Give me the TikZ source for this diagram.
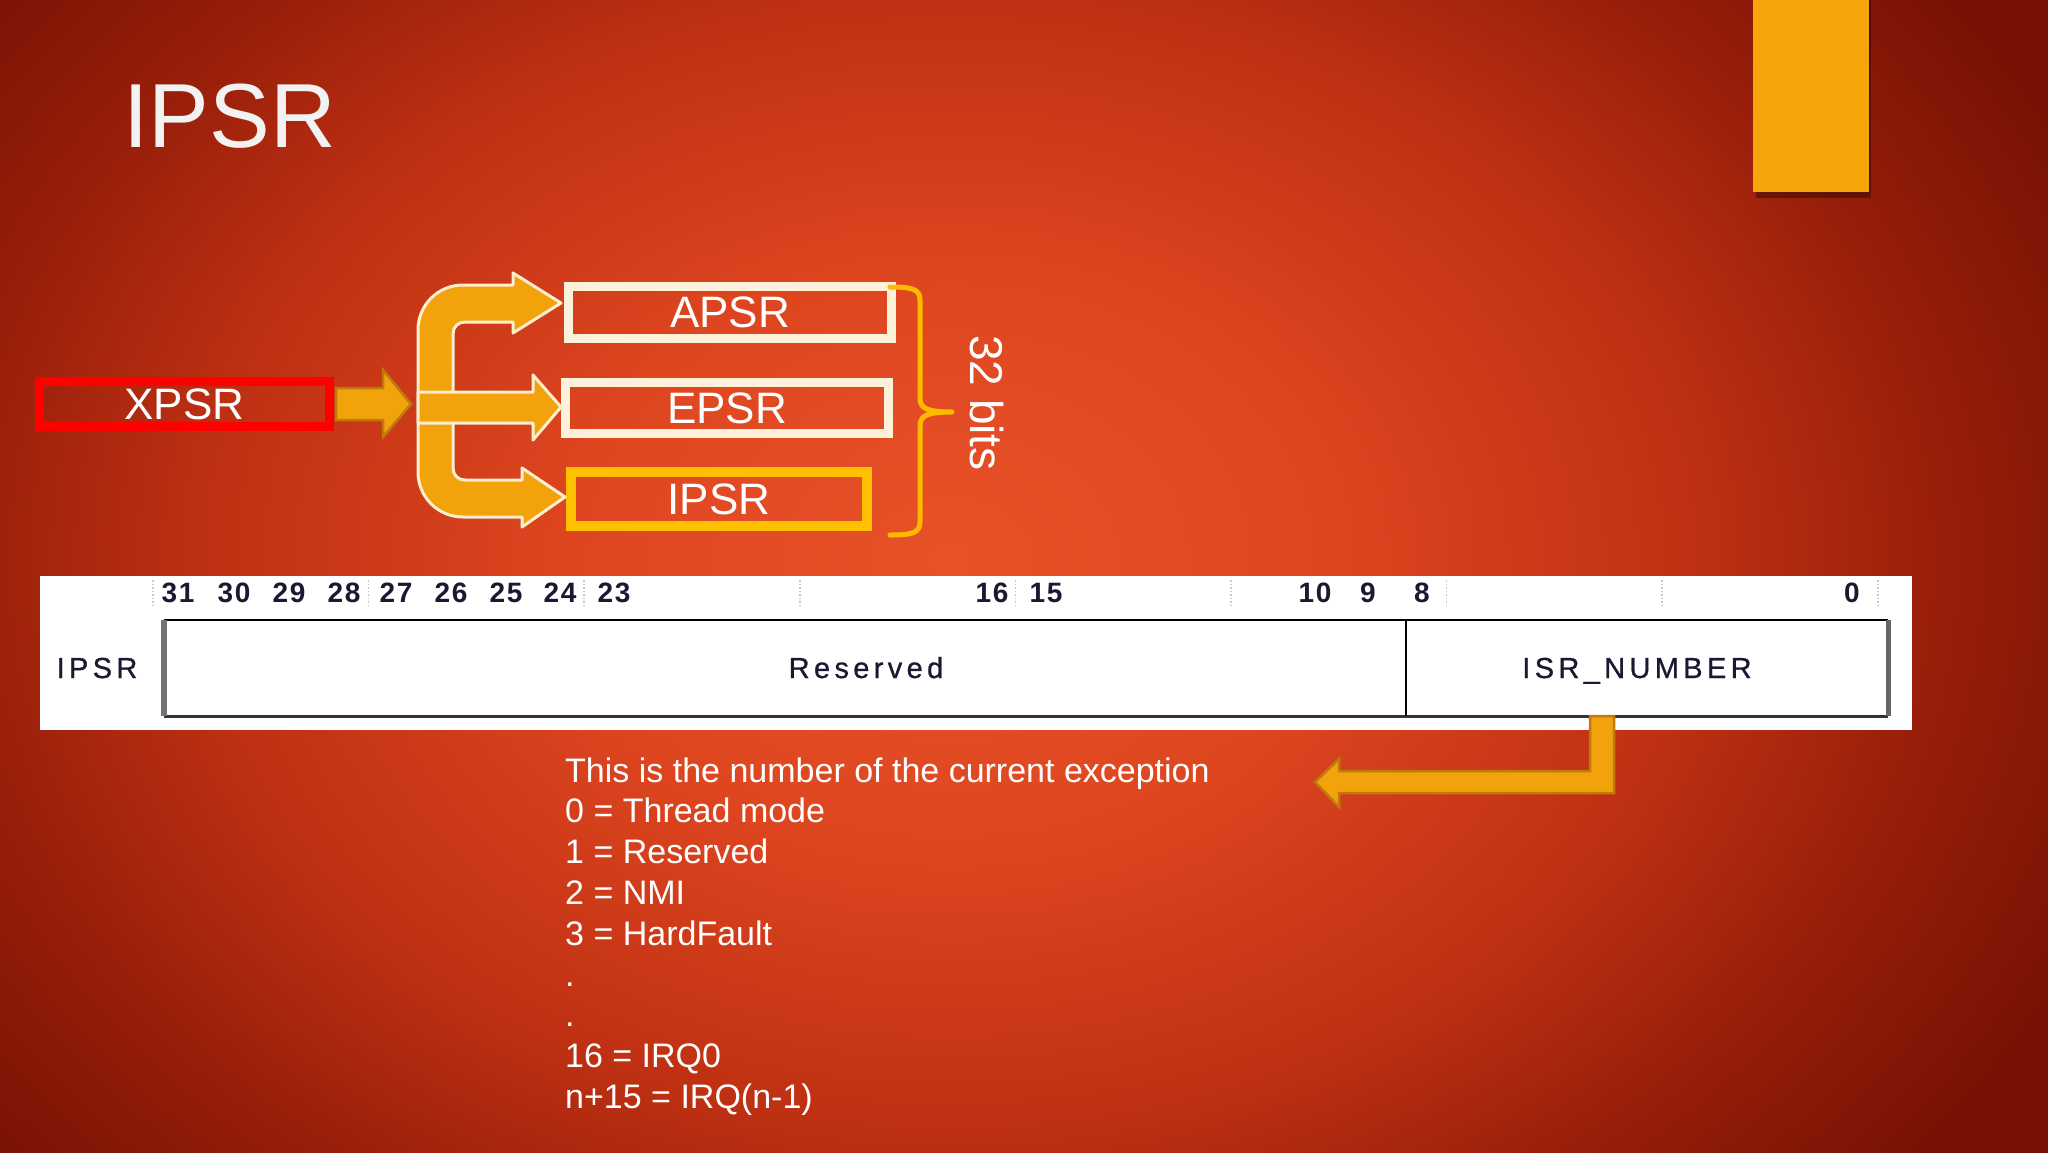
\documentclass[tikz,border=0pt]{standalone}
\usepackage{fontspec}
\setmainfont{Liberation Sans}
\newfontfamily\tabfont[LetterSpace=15,FakeBold=0.8]{Liberation Sans}
\newfontfamily\numfont[LetterSpace=6]{Liberation Sans}
\definecolor{bgA}{RGB}{232,82,40}
\definecolor{bgB}{RGB}{222,70,32}
\definecolor{bgC}{RGB}{190,48,18}
\definecolor{bgD}{RGB}{150,30,10}
\definecolor{bgE}{RGB}{120,17,4}
\definecolor{arrOrange}{RGB}{242,163,12}
\definecolor{cream}{RGB}{253,238,205}
\definecolor{lightbox}{RGB}{253,241,218}
\definecolor{xred}{RGB}{255,0,0}
\definecolor{goldbox}{RGB}{255,192,0}
\definecolor{bracegold}{RGB}{255,186,0}
\definecolor{arrDark}{RGB}{192,122,10}
\definecolor{titlewhite}{RGB}{242,242,242}
\definecolor{ink}{RGB}{25,25,50}
\definecolor{orangeRect}{RGB}{246,166,10}
\definecolor{sepgray}{RGB}{200,200,200}
\pgfdeclareradialshading{bgshade}{\pgfpoint{0bp}{0bp}}{color(0bp)=(bgA); color(7.5bp)=(bgB); color(15bp)=(bgC); color(20bp)=(bgD); color(25bp)=(bgE); color(50bp)=(bgE)}
\begin{document}
\begin{tikzpicture}[x=1pt,y=-1pt,
  regbox/.style={inner sep=0pt, outer sep=0pt, text=white, font=\fontsize{44}{50}\selectfont},
  branch/.style={fill=arrOrange, draw=cream, line width=3pt, line join=round},
  blockarrow/.style={fill=arrOrange, draw=arrDark, line width=2.5pt, line join=miter},
  tablabel/.style={inner sep=0pt, anchor=base, text=ink, font=\tabfont\fontsize{29}{32}\selectfont},
  bitnum/.style={inner sep=0pt, anchor=base, text=ink, font=\numfont\bfseries\fontsize{28}{30}\selectfont},
  desc/.style={inner sep=0pt, anchor=base west, text=white, font=\fontsize{34}{40}\selectfont}]
\useasboundingbox (0,0) rectangle (2048,1152);
% background
\begin{scope}
\clip (-5,-5) rectangle (2053,1157);
\fill[bgE] (-5,-5) rectangle (2053,1157);
\shade[shading=bgshade] (950,560) ellipse [x radius=1250pt, y radius=950pt];
\end{scope}
% orange accent bar
\fill[black, opacity=0.35] (1756,-5) rectangle (1871,198);
\fill[orangeRect] (1753,-5) rectangle (1869,192);
% title
\node[anchor=base west, inner sep=0pt, text=titlewhite, font=\fontsize{91}{100}\selectfont] (title) at (123.5,147) {IPSR};
% register boxes
\node[regbox, draw=xred, line width=9pt, minimum width=290pt, minimum height=45pt] (xpsr) at (184.5,404) {XPSR};
\node[regbox, draw=lightbox, line width=9pt, minimum width=323pt, minimum height=52pt] (apsr) at (730,312.5) {APSR};
\node[regbox, draw=lightbox, line width=9pt, minimum width=323pt, minimum height=51pt] (epsr) at (727,408) {EPSR};
\node[regbox, draw=goldbox, line width=10pt, minimum width=296pt, minimum height=54pt] (ipsrb) at (719,499) {IPSR};
% arrow from XPSR
\draw[blockarrow] (336,388) -- (383,388) -- (383,370) -- (411,404) -- (383,437) -- (383,420) -- (336,420) -- cycle;
% branching arrow (top and bottom)
\draw[branch] (561,303) -- (513,273) -- (513,285) -- (463,285) .. controls (438,285) and (418,305) .. (418,330) -- (418,472) .. controls (418,497) and (438,517) .. (463,517) -- (522,517) -- (522,527) -- (565,497) -- (522,468) -- (522,480) -- (465,480) .. controls (458,480) and (453,475) .. (453,468) -- (453,334) .. controls (453,327) and (458,322) .. (465,322) -- (513,322) -- (513,333) -- cycle;
% middle arrow
\draw[branch] (418,392) -- (533,392) -- (533,375) -- (561,407) -- (533,440) -- (533,423) -- (418,423) -- cycle;
% brace
\draw[bracegold, line width=5pt, line cap=round, line join=round] (890,287) .. controls (912,287) and (920,289) .. (920,300) -- (920,398) .. controls (920,408) and (926,412) .. (952,412) .. controls (926,412) and (920,416) .. (920,426) -- (920,522) .. controls (920,533) and (912,535) .. (890,535);
\node[rotate=-90, inner sep=0pt, text=white, font=\fontsize{46}{50}\selectfont] (bits) at (987,403) {32 bits};
% register table
\node[fill=white, inner sep=0pt, outer sep=0pt, minimum width=1872pt, minimum height=154pt, anchor=north west] (strip) at (40,576) {};
\node[inner sep=0pt, outer sep=0pt, minimum width=1242pt, minimum height=96pt, anchor=north west] (res) at (164,620) {};
\node[inner sep=0pt, outer sep=0pt, minimum width=482pt, minimum height=96pt, anchor=north west] (isr) at (1406,620) {};
\draw[black!80, line width=3pt] (res.south west) -- (isr.south east);
\draw[black, line width=2.5pt] (res.north west) -- (isr.north east);
\draw[black, line width=2.5pt] (isr.north west) -- (isr.south west);
\draw[black!55, line width=6pt] (res.north west) -- (res.south west);
\draw[black!60, line width=5pt] (isr.north east) -- (isr.south east);
\foreach \k in {0,...,8} {
  \draw[sepgray, line width=1.5pt, dotted] (153+\k*215.6,580) -- (153+\k*215.6,608);
}
\foreach \b/\x in {31/178,30/234,29/289,28/344,27/396,26/451,25/506,24/560,23/614,16/992,15/1046,10/1315,9/1368,8/1422,0/1852} {
  \node[bitnum] (bit\b) at (\x,602) {\b};
}
\node[tablabel] (ipsrlbl) at (97,678) {IPSR};
\node[tablabel] (restxt) at (866,678) {Reserved};
\node[tablabel] (isrtxt) at (1637,678) {ISR\_NUMBER};
% arrow from ISR_NUMBER to the description
\draw[blockarrow] (1590,716) -- (1614,716) -- (1614,793) -- (1339,793) -- (1339,807) -- (1315,782) -- (1339,759) -- (1339,771) -- (1590,771) -- cycle;
% description
\foreach \t [count=\i from 0] in {This is the number of the current exception, 0 = Thread mode, 1 = Reserved, 2 = NMI, 3 = HardFault, ., ., 16 = IRQ0, n+15 = IRQ(n-1)} {
  \node[desc] (line\i) at (565,782+\i*40.8) {\t};
}
\end{tikzpicture}
\end{document}
